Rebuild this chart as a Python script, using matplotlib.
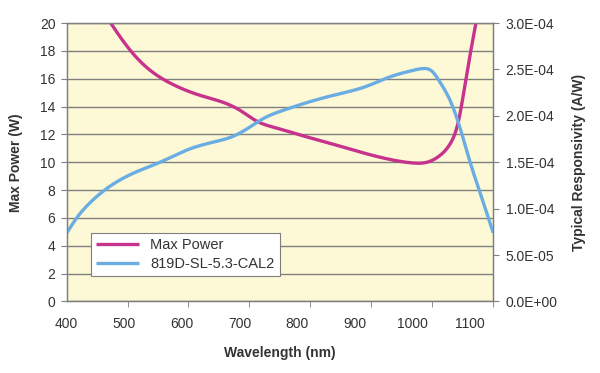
import numpy as np
import matplotlib
matplotlib.use('Agg')
import matplotlib.pyplot as plt
from matplotlib.ticker import FixedLocator

plt.rcParams['font.family'] = ['Liberation Sans Narrow', 'Liberation Sans', 'DejaVu Sans']

# Max Power (W) vs wavelength (nm)
power_wl = [470, 510, 545, 579, 632, 675, 700, 730, 765, 805, 862, 921, 961,
            1000, 1025, 1048, 1065, 1080, 1092, 1102, 1110]
power_w = [20.4, 18.06, 16.6, 15.7, 14.8, 14.25, 13.75, 12.95, 12.45, 11.96, 11.3, 10.6,
           10.2, 9.95, 10.0, 10.5, 11.3, 13.0, 15.8, 18.2, 20.0]

# Typical responsivity (A/W) of 819D-SL-5.3-CAL2
resp_wl = [400, 417, 440, 466, 515, 562, 608, 650, 689, 713, 741, 776, 805, 862,
           921, 961, 1001, 1020, 1033, 1048, 1065, 1083, 1100, 1120, 1140]
resp_aw = [7.35e-5, 8.96e-5, 10.6e-5, 12.0e-5, 13.8e-5, 15.0e-5, 16.3e-5, 17.1e-5,
           17.8e-5, 18.6e-5, 19.7e-5, 20.6e-5, 21.2e-5, 22.2e-5, 23.2e-5, 24.2e-5,
           24.9e-5, 25.1e-5, 24.85e-5, 23.6e-5, 21.7e-5, 18.6e-5, 15.0e-5, 11.2e-5, 7.4e-5]

x_labels = [400, 500, 600, 700, 800, 900, 1000, 1100]
left_ticks = list(range(0, 21, 2))
right_ticks = [0, 5e-5, 1e-4, 1.5e-4, 2e-4, 2.5e-4, 3e-4]
right_labels = ['0.0E+00', '5.0E-05', '1.0E-04', '1.5E-04', '2.0E-04', '2.5E-04', '3.0E-04']

magenta = '#C7338C'
blue = '#6AADE2'
grid_gray = '#7f7f7f'
text_gray = '#333333'


def spline(x, y, n=500):
    # natural cubic spline through the read points
    x = np.asarray(x, float)
    y = np.asarray(y, float)
    k = len(x)
    h = np.diff(x)
    A = np.zeros((k, k))
    b = np.zeros(k)
    A[0, 0] = A[-1, -1] = 1
    for i in range(1, k - 1):
        A[i, i - 1] = h[i - 1]
        A[i, i] = 2 * (h[i - 1] + h[i])
        A[i, i + 1] = h[i]
        b[i] = 6 * ((y[i + 1] - y[i]) / h[i] - (y[i] - y[i - 1]) / h[i - 1])
    M = np.linalg.solve(A, b)
    xs = np.linspace(x[0], x[-1], n)
    idx = np.clip(np.searchsorted(x, xs) - 1, 0, k - 2)
    hi = h[idx]
    a = (x[idx + 1] - xs) / hi
    c = (xs - x[idx]) / hi
    ys = (a * y[idx] + c * y[idx + 1]
          + ((a ** 3 - a) * M[idx] + (c ** 3 - c) * M[idx + 1]) * hi ** 2 / 6)
    return xs, ys


fig = plt.figure(figsize=(6.0, 3.73), dpi=100)
ax = fig.add_axes([0.111, 0.1917, 0.711, 0.7466])
ax.set_facecolor('#FDF9D7')
ax.set_xlim(400, 1140)
ax.set_ylim(0, 20)

ax.set_yticks(left_ticks)
ax.grid(axis='y', color=grid_gray, linewidth=1.0)
ax.set_axisbelow(True)

# x labels at data values, tick marks at equal divisions of the axis
ax.set_xticks(x_labels)
ax.xaxis.set_minor_locator(FixedLocator(np.linspace(400, 1140, 8)))
ax.tick_params(axis='x', which='major', length=0, pad=11, labelsize=10, labelcolor=text_gray)
ax.tick_params(axis='x', which='minor', length=4, color=grid_gray, direction='out')
ax.tick_params(axis='y', length=4, color=grid_gray, labelsize=10, labelcolor=text_gray, pad=4)

for side in ['left', 'bottom', 'right', 'top']:
    ax.spines[side].set_color(grid_gray)
    ax.spines[side].set_linewidth(1.0)

ax2 = ax.twinx()
ax2.set_ylim(0, 3e-4)
ax2.set_yticks(right_ticks)
ax2.set_yticklabels(right_labels)
ax2.tick_params(axis='y', length=4, color=grid_gray, labelsize=10, labelcolor=text_gray, pad=5)
for side in ['left', 'bottom', 'right', 'top']:
    ax2.spines[side].set_color(grid_gray)

px, py = spline(power_wl, power_w)
rx, ry = spline(resp_wl, resp_aw)
l1, = ax.plot(px, py, color=magenta, linewidth=2.4, solid_capstyle='butt')
l2, = ax2.plot(rx, ry, color=blue, linewidth=2.4, solid_capstyle='butt')

leg = ax.legend([l1, l2], ['Max Power', '819D-SL-5.3-CAL2'], loc='lower left',
                bbox_to_anchor=(0.058, 0.09), fancybox=False, framealpha=1,
                edgecolor=grid_gray, fontsize=10.5, handlelength=2.9, borderpad=0.35,
                labelspacing=0.35, handletextpad=0.8, borderaxespad=0)
leg.get_frame().set_linewidth(0.8)
for t in leg.get_texts():
    t.set_color(text_gray)

ax.set_xlabel('Wavelength (nm)', fontsize=10, fontweight='bold', color=text_gray, labelpad=11)
ax.set_ylabel('Max Power (W)', fontsize=10, fontweight='bold', color=text_gray, labelpad=12)
ax2.set_ylabel('Typical Responsivity (A/W)', fontsize=10, fontweight='bold', color=text_gray,
               labelpad=10)

fig.savefig('out.png', dpi=100)
